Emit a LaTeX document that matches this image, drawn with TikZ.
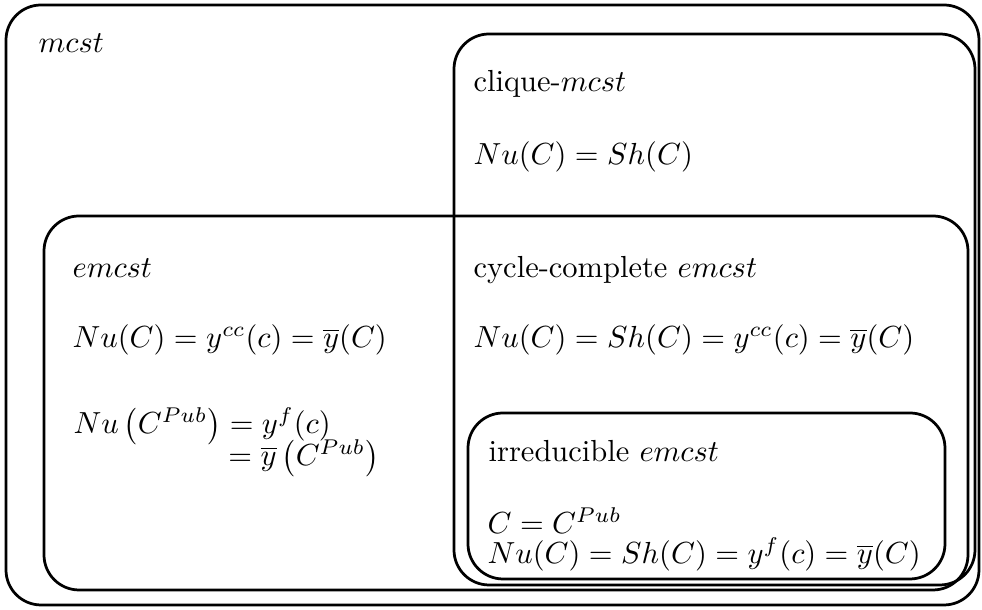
\documentclass[tikz,border=0pt]{standalone}
\usepackage{amsmath}
\usetikzlibrary{positioning}

\tikzset{
    setbox/.style={draw, line width=0.9pt, rounded corners=11.5pt},
    lbl/.style={anchor=base west, inner sep=0pt}
}

\begin{document}
\begin{tikzpicture}[x=0.328pt, y=-0.328pt]
    \useasboundingbox (0,0) rectangle (982,610);

    % the sets
    \draw[setbox] (6,5) rectangle (979,605);      % mcst
    \draw[setbox] (454,34) rectangle (975,585);   % clique
    \draw[setbox] (44,216) rectangle (968,590);   % emcst
    \draw[setbox] (468,413) rectangle (945,579);  % irreducible

    % mcst
    \node[lbl] (mcst) at (38,53) {$mcst$};

    % clique-mcst
    \node[lbl] (clq) at (473,92) {clique-$mcst$};
    \node[lbl] (clqeq) at (473,165) {$Nu(C) = Sh(C)$};

    % emcst
    \node[lbl] (emc) at (72,278) {$emcst$};
    \node[lbl] (emceq) at (72,348) {$Nu(C) = y^{cc}(c) = \overline{y}(C)$};
    \node[lbl, align=left] (pub) at (73,466) {% base = last line
        $Nu\left(C^{Pub}\right) = y^{f}(c)$\\[-2.5pt]
        \hspace*{50.8pt}$=\overline{y}\left(C^{Pub}\right)$};

    % cycle-complete emcst
    \node[lbl] (cyc) at (473,278) {cycle-complete $emcst$};
    \node[lbl] (cyceq) at (473,348) {$Nu(C) = Sh(C) = y^{cc}(c) = \overline{y}(C)$};

    % irreducible emcst
    \node[lbl] (irr) at (488,462) {irreducible $emcst$};
    \node[lbl, align=left] (irreq) at (487,564) {%
        $C = C^{Pub}$\\[-2pt]
        $Nu(C) = Sh(C) = y^{f}(c) = \overline{y}(C)$};
\end{tikzpicture}
\end{document}
